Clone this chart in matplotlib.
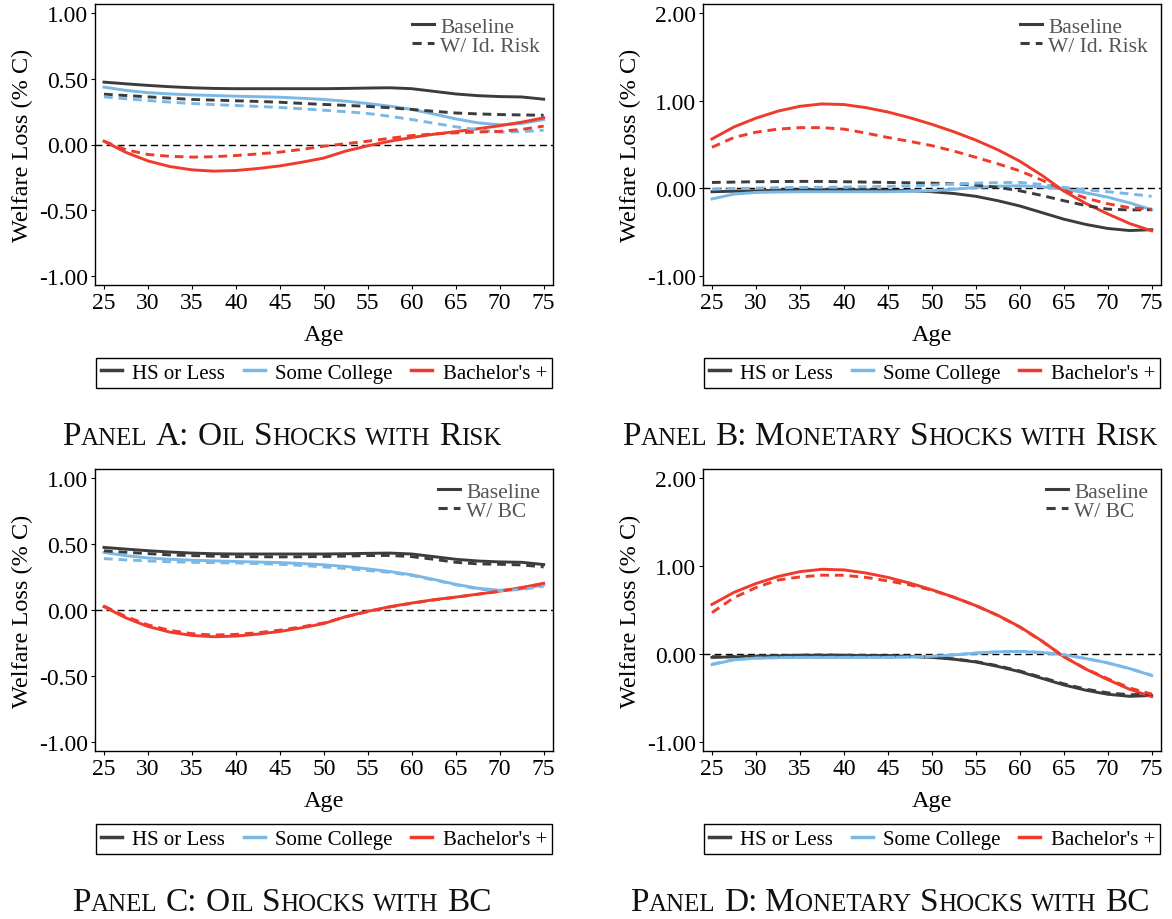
import numpy as np
import matplotlib
matplotlib.use('Agg')
import matplotlib.pyplot as plt
from matplotlib.lines import Line2D

plt.rcParams['font.family'] = ['Liberation Serif', 'DejaVu Serif']

ages = [25, 27.5, 30, 32.5, 35, 37.5, 40, 42.5, 45, 47.5, 50, 52.5,
        55, 57.5, 60, 62.5, 65, 67.5, 70, 72.5, 75]

# oil shocks, baseline
oil_hs = [0.475, 0.462, 0.450, 0.440, 0.432, 0.427, 0.425, 0.425, 0.425, 0.425, 0.425,
          0.427, 0.430, 0.432, 0.425, 0.405, 0.385, 0.372, 0.365, 0.362, 0.345]
oil_sc = [0.437, 0.412, 0.395, 0.385, 0.378, 0.373, 0.368, 0.364, 0.360, 0.352, 0.343,
          0.330, 0.312, 0.292, 0.267, 0.232, 0.195, 0.165, 0.150, 0.160, 0.190]
oil_ba = [0.025, -0.060, -0.125, -0.168, -0.193, -0.203, -0.198, -0.183, -0.163, -0.135, -0.103,
          -0.050, -0.010, 0.025, 0.053, 0.078, 0.098, 0.120, 0.143, 0.170, 0.203]
# oil shocks, idiosyncratic risk
oil_risk_hs = [0.383, 0.373, 0.363, 0.353, 0.343, 0.338, 0.333, 0.328, 0.322, 0.313, 0.305,
               0.298, 0.290, 0.280, 0.267, 0.253, 0.240, 0.233, 0.228, 0.225, 0.223]
oil_risk_sc = [0.363, 0.348, 0.335, 0.323, 0.312, 0.304, 0.297, 0.290, 0.282, 0.272, 0.261,
               0.250, 0.236, 0.215, 0.190, 0.162, 0.135, 0.112, 0.094, 0.098, 0.109]
oil_risk_ba = [0.025, -0.040, -0.076, -0.090, -0.096, -0.093, -0.084, -0.072, -0.058, -0.037, -0.013,
               0.006, 0.025, 0.047, 0.068, 0.080, 0.089, 0.095, 0.100, 0.115, 0.140]
# oil shocks, borrowing constraint
oil_bc_hs = [0.449, 0.438, 0.428, 0.418, 0.413, 0.408, 0.405, 0.404, 0.403, 0.404, 0.406,
             0.409, 0.413, 0.414, 0.405, 0.385, 0.362, 0.350, 0.347, 0.342, 0.327]
oil_bc_sc = [0.390, 0.380, 0.372, 0.366, 0.362, 0.359, 0.357, 0.352, 0.347, 0.338, 0.327,
             0.315, 0.300, 0.285, 0.262, 0.228, 0.192, 0.160, 0.146, 0.156, 0.180]
oil_bc_ba = [0.030, -0.050, -0.113, -0.155, -0.180, -0.190, -0.185, -0.173, -0.153, -0.128, -0.098,
             -0.052, -0.012, 0.023, 0.051, 0.076, 0.097, 0.119, 0.142, 0.168, 0.200]

# monetary shocks, baseline
mon_hs = [-0.038, -0.032, -0.027, -0.020, -0.015, -0.013, -0.015, -0.017, -0.020, -0.027, -0.038,
          -0.058, -0.090, -0.140, -0.200, -0.275, -0.350, -0.410, -0.456, -0.480, -0.470]
mon_sc = [-0.120, -0.065, -0.046, -0.041, -0.038, -0.038, -0.038, -0.038, -0.038, -0.034, -0.027,
          -0.010, 0.011, 0.025, 0.030, 0.018, -0.008, -0.050, -0.100, -0.165, -0.243]
mon_ba = [0.563, 0.700, 0.800, 0.880, 0.935, 0.962, 0.955, 0.920, 0.870, 0.805, 0.730,
          0.645, 0.550, 0.440, 0.310, 0.150, -0.030, -0.170, -0.290, -0.400, -0.483]
# monetary shocks, idiosyncratic risk
mon_risk_hs = [0.068, 0.072, 0.076, 0.078, 0.080, 0.079, 0.076, 0.072, 0.068, 0.064, 0.060,
               0.052, 0.038, 0.012, -0.027, -0.080, -0.140, -0.195, -0.236, -0.245, -0.243]
mon_risk_sc = [-0.008, -0.002, 0.004, 0.008, 0.011, 0.013, 0.015, 0.019, 0.023, 0.030, 0.038,
               0.050, 0.060, 0.066, 0.068, 0.045, 0.011, -0.015, -0.038, -0.062, -0.090]
mon_risk_ba = [0.468, 0.580, 0.640, 0.675, 0.692, 0.692, 0.675, 0.630, 0.580, 0.535, 0.487,
               0.425, 0.354, 0.280, 0.200, 0.095, -0.020, -0.110, -0.175, -0.220, -0.236]
# monetary shocks, borrowing constraint
mon_bc_hs = [-0.030, -0.027, -0.022, -0.017, -0.013, -0.012, -0.013, -0.015, -0.018, -0.025, -0.035,
             -0.055, -0.085, -0.133, -0.192, -0.265, -0.338, -0.398, -0.440, -0.462, -0.455]
mon_bc_sc = [-0.115, -0.063, -0.045, -0.040, -0.037, -0.037, -0.037, -0.037, -0.037, -0.033, -0.026,
             -0.010, 0.011, 0.025, 0.030, 0.018, -0.008, -0.050, -0.100, -0.165, -0.240]
mon_bc_ba = [0.470, 0.640, 0.754, 0.840, 0.875, 0.895, 0.894, 0.870, 0.830, 0.785, 0.725,
             0.645, 0.550, 0.438, 0.305, 0.148, -0.030, -0.168, -0.280, -0.385, -0.455]

groups = ['HS or Less', 'Some College', "Bachelor's +"]
colors = ['#3c3c3c', '#7ab8e6', '#ef3b2c']

panels = [
    dict(base=[oil_hs, oil_sc, oil_ba], alt=[oil_risk_hs, oil_risk_sc, oil_risk_ba],
         alt_label='W/ Id. Risk', ylim=(-1.07, 1.07), yticks=[1.0, 0.5, 0.0, -0.5, -1.0],
         cap=[('P', 'anel'), ('A:', ''), ('O', 'il'), ('S', 'hocks'), ('', 'with'), ('R', 'isk')]),
    dict(base=[mon_hs, mon_sc, mon_ba], alt=[mon_risk_hs, mon_risk_sc, mon_risk_ba],
         alt_label='W/ Id. Risk', ylim=(-1.1, 2.1), yticks=[2.0, 1.0, 0.0, -1.0],
         cap=[('P', 'anel'), ('B:', ''), ('M', 'onetary'), ('S', 'hocks'), ('', 'with'), ('R', 'isk')]),
    dict(base=[oil_hs, oil_sc, oil_ba], alt=[oil_bc_hs, oil_bc_sc, oil_bc_ba],
         alt_label='W/ BC', ylim=(-1.07, 1.07), yticks=[1.0, 0.5, 0.0, -0.5, -1.0],
         cap=[('P', 'anel'), ('C:', ''), ('O', 'il'), ('S', 'hocks'), ('', 'with'), ('BC', '')]),
    dict(base=[mon_hs, mon_sc, mon_ba], alt=[mon_bc_hs, mon_bc_sc, mon_bc_ba],
         alt_label='W/ BC', ylim=(-1.1, 2.1), yticks=[2.0, 1.0, 0.0, -1.0],
         cap=[('P', 'anel'), ('D:', ''), ('M', 'onetary'), ('S', 'hocks'), ('', 'with'), ('BC', '')]),
]

fig = plt.figure(figsize=(11.72, 9.20), dpi=100)

# axes boxes in pixels: left, top, right, bottom
boxes = [(95, 5, 553, 286), (703, 5, 1161, 286), (95, 470, 553, 752), (703, 470, 1161, 752)]
W, H = 1172, 920


def small_caps(fig, xc, y, words, big=24, small=18):
    # caption in small caps: capitals full size, the rest as smaller capitals
    renderer = fig.canvas.get_renderer()
    pieces = []
    for i, (cap, rest) in enumerate(words):
        if i > 0:
            pieces.append((' ', big))
        if cap:
            pieces.append((cap, big))
        if rest:
            pieces.append((rest.upper(), small))
    widths = []
    for s, size in pieces:
        t = fig.text(0, 0, s, fontsize=size)
        widths.append(t.get_window_extent(renderer).width)
        t.remove()
    x = xc - sum(widths) / 2
    for (s, size), w in zip(pieces, widths):
        fig.text(x / W, 1 - y / H, s, fontsize=size, ha='left', va='baseline', color='#111111')
        x += w


for p, (l, t, r, b) in zip(panels, boxes):
    ax = fig.add_axes([l / W, 1 - b / H, (r - l) / W, (b - t) / H])
    ax.axhline(0, color='black', lw=1.0, ls=(0, (5, 3)))
    for ys, c in zip(p['base'], colors):
        ax.plot(ages, ys, color=c, lw=2.1)
    for ys, c in zip(p['alt'], colors):
        ax.plot(ages, ys, color=c, lw=2.1, ls=(0, (3, 2)))
    ax.set_xlim(23.98, 76.06)
    ax.set_ylim(*p['ylim'])
    ax.set_xticks(range(25, 80, 5))
    ax.set_yticks(p['yticks'])
    ax.set_yticklabels(['%.2f' % v for v in p['yticks']])
    ax.tick_params(labelsize=17, length=3, width=0.8, direction='out', pad=2)
    for s in ax.spines.values():
        s.set_linewidth(1.0)
    ax.set_xlabel('Age', fontsize=17.5, labelpad=8)
    ax.set_ylabel('Welfare Loss (% C)', fontsize=17.5, labelpad=4)

    style_handles = [Line2D([], [], color='#3c3c3c', lw=2.2),
                     Line2D([], [], color='#3c3c3c', lw=2.2, ls=(0, (3, 2)))]
    ax.legend(style_handles, ['Baseline', p['alt_label']], loc='upper right',
              frameon=False, fontsize=15.5, handlelength=1.0, handletextpad=0.3,
              labelspacing=-0.05, borderaxespad=0.2, labelcolor='#555555')

    grp_handles = [Line2D([], [], color=c, lw=2.5) for c in colors]
    leg2 = fig.legend(grp_handles, groups, loc='center',
                      bbox_to_anchor=((l + r) / 2 / W, 1 - (b + 88) / H),
                      ncol=3, fontsize=15, handlelength=1.0, handletextpad=0.5,
                      columnspacing=0.9, fancybox=False, edgecolor='black',
                      borderpad=0.25, borderaxespad=0, framealpha=1)
    leg2.get_frame().set_linewidth(1.0)

    small_caps(fig, (l + r) / 2 - 42, b + 159, p['cap'])

fig.savefig('out.png', dpi=100)
